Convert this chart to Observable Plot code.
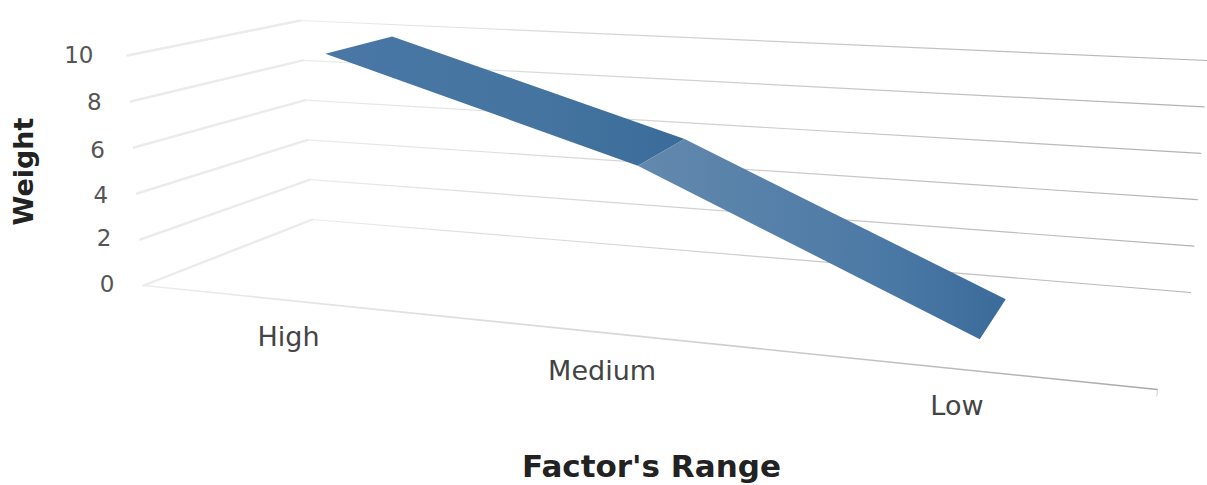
<!DOCTYPE html>
<html>
<head>
<meta charset="utf-8">
<script src="https://cdn.jsdelivr.net/npm/d3@7"></script>
<script src="https://cdn.jsdelivr.net/npm/@observablehq/plot@0.6"></script>
<style>html,body{margin:0;padding:0;background:#fff}svg{display:block}</style>
</head>
<body>
<div id="chart"></div>
<script>
// Data
const categories = ["High", "Medium", "Low"];
const weights = [10.3, 6.45, 0.68];
const weightTicks = [0, 2, 4, 6, 8, 10];
const xTitle = "Factor's Range";
const yTitle = "Weight";

// 3D view of the chart box: (along category axis, weight, depth) -> picture
const box = {
  f0L: [143, 285], f0R: [1157, 389], b0L: [312, 219], b0R: [1190, 292],
  f10L: [127, 55], f10R: [1182, 121], b10L: [300, 20], b10R: [1207, 60]
};
const categoryAlong = [0.1667, 0.47, 0.815];
const ribbonDepth = [0.15, 0.6];
const mix = (a, b, t) => a + (b - a) * t;
const project = (u, w, d) => {
  const t = w / 10;
  const at = (i) => mix(
    mix(mix(box.f0L[i], box.f0R[i], u), mix(box.b0L[i], box.b0R[i], u), d),
    mix(mix(box.f10L[i], box.f10R[i], u), mix(box.b10L[i], box.b10R[i], u), d),
    t
  );
  return {x: at(0), y: at(1)};
};

const gridFront = weightTicks.map((w) => [project(0, w, 0), project(0, w, 1)]);
const gridBack = weightTicks.map((w) => [project(0, w, 1), project(1, w, 1)]);
const floorFront = [project(0, 0, 0), project(1, 0, 0)];
const endTick = [project(1, 0, 0), project(1, -0.25, 0)];

const ribbonSegment = (i) => [
  project(categoryAlong[i], weights[i], ribbonDepth[0]),
  project(categoryAlong[i], weights[i], ribbonDepth[1]),
  project(categoryAlong[i + 1], weights[i + 1], ribbonDepth[1]),
  project(categoryAlong[i + 1], weights[i + 1], ribbonDepth[0]),
  project(categoryAlong[i], weights[i], ribbonDepth[0])
];

const tickDy = {0: -1, 2: -1, 4: 2, 6: 3, 8: 1, 10: 0};
const tickRows = weightTicks.map((w) => {
  const p = project(0, w, 0);
  return {label: String(w), x: p.x - (w === 10 ? 34 : 29), y: p.y + tickDy[w]};
});
const catPlace = [[-24, 35], [-18, 37], [-13, 36]];
const catRows = categories.map((c, i) => {
  const p = project(categoryAlong[i], 0, 0);
  return {label: c, x: p.x + catPlace[i][0], y: p.y + catPlace[i][1]};
});

const gradient = (id, stops) => () => {
  const defs = d3.create("svg:defs");
  const g = defs.append("linearGradient").attr("id", id)
    .attr("x1", "0").attr("y1", "0").attr("x2", "1").attr("y2", "0");
  stops.forEach(([o, c]) => g.append("stop").attr("offset", o).attr("stop-color", c));
  return defs.node();
};

const font = "DejaVu Sans";
const chart = Plot.plot({
  width: 1207,
  height: 485,
  margin: 0,
  x: {domain: [0, 1207], range: [0, 1207], axis: null},
  y: {domain: [0, 485], range: [0, 485], axis: null},
  style: {background: "#fff"},
  marks: [
    gradient("gBack", [[0, "#ececec"], [0.2, "#dedede"], [1, "#b2b2b2"]]),
    gradient("gFloor", [[0, "#ececec"], [0.5, "#d6d6d6"], [1, "#a8a8a8"]]),
    gradient("gSeg1", [[0, "#4a77a6"], [0.6, "#44749f"], [1, "#3b6b99"]]),
    gradient("gSeg2", [[0, "#6488ae"], [0.25, "#5a83aa"], [0.7, "#4a78a5"], [1, "#3b6b9a"]]),
    ...gridFront.map((l) => Plot.line(l, {x: "x", y: "y", stroke: "#ebebeb", strokeWidth: 2.4})),
    ...gridBack.map((l) => Plot.line(l, {x: "x", y: "y", stroke: "url(#gBack)", strokeWidth: 1.2})),
    Plot.line(floorFront, {x: "x", y: "y", stroke: "url(#gFloor)", strokeWidth: 1.6}),
    Plot.line(endTick, {x: "x", y: "y", stroke: "#cfcfcf", strokeWidth: 1}),
    Plot.line(ribbonSegment(0), {x: "x", y: "y", fill: "url(#gSeg1)", stroke: "none"}),
    Plot.line(ribbonSegment(1), {x: "x", y: "y", fill: "url(#gSeg2)", stroke: "none"}),
    Plot.text(tickRows, {x: "x", y: "y", text: "label", textAnchor: "end", fontSize: 23, fontFamily: font, fill: "#555"}),
    Plot.text(catRows, {x: "x", y: "y", text: "label", fontSize: 27, fontFamily: font, fill: "#444"}),
    Plot.text([xTitle], {x: () => 651, y: () => 467, text: (d) => d, fontSize: 31, fontWeight: "bold", fontFamily: font, fill: "#222"}),
    Plot.text([yTitle], {x: () => 24, y: () => 171, text: (d) => d, rotate: -90, fontSize: 27, fontWeight: "bold", fontFamily: font, fill: "#222"})
  ]
});
document.getElementById("chart").append(chart);
</script>
</body>
</html>
